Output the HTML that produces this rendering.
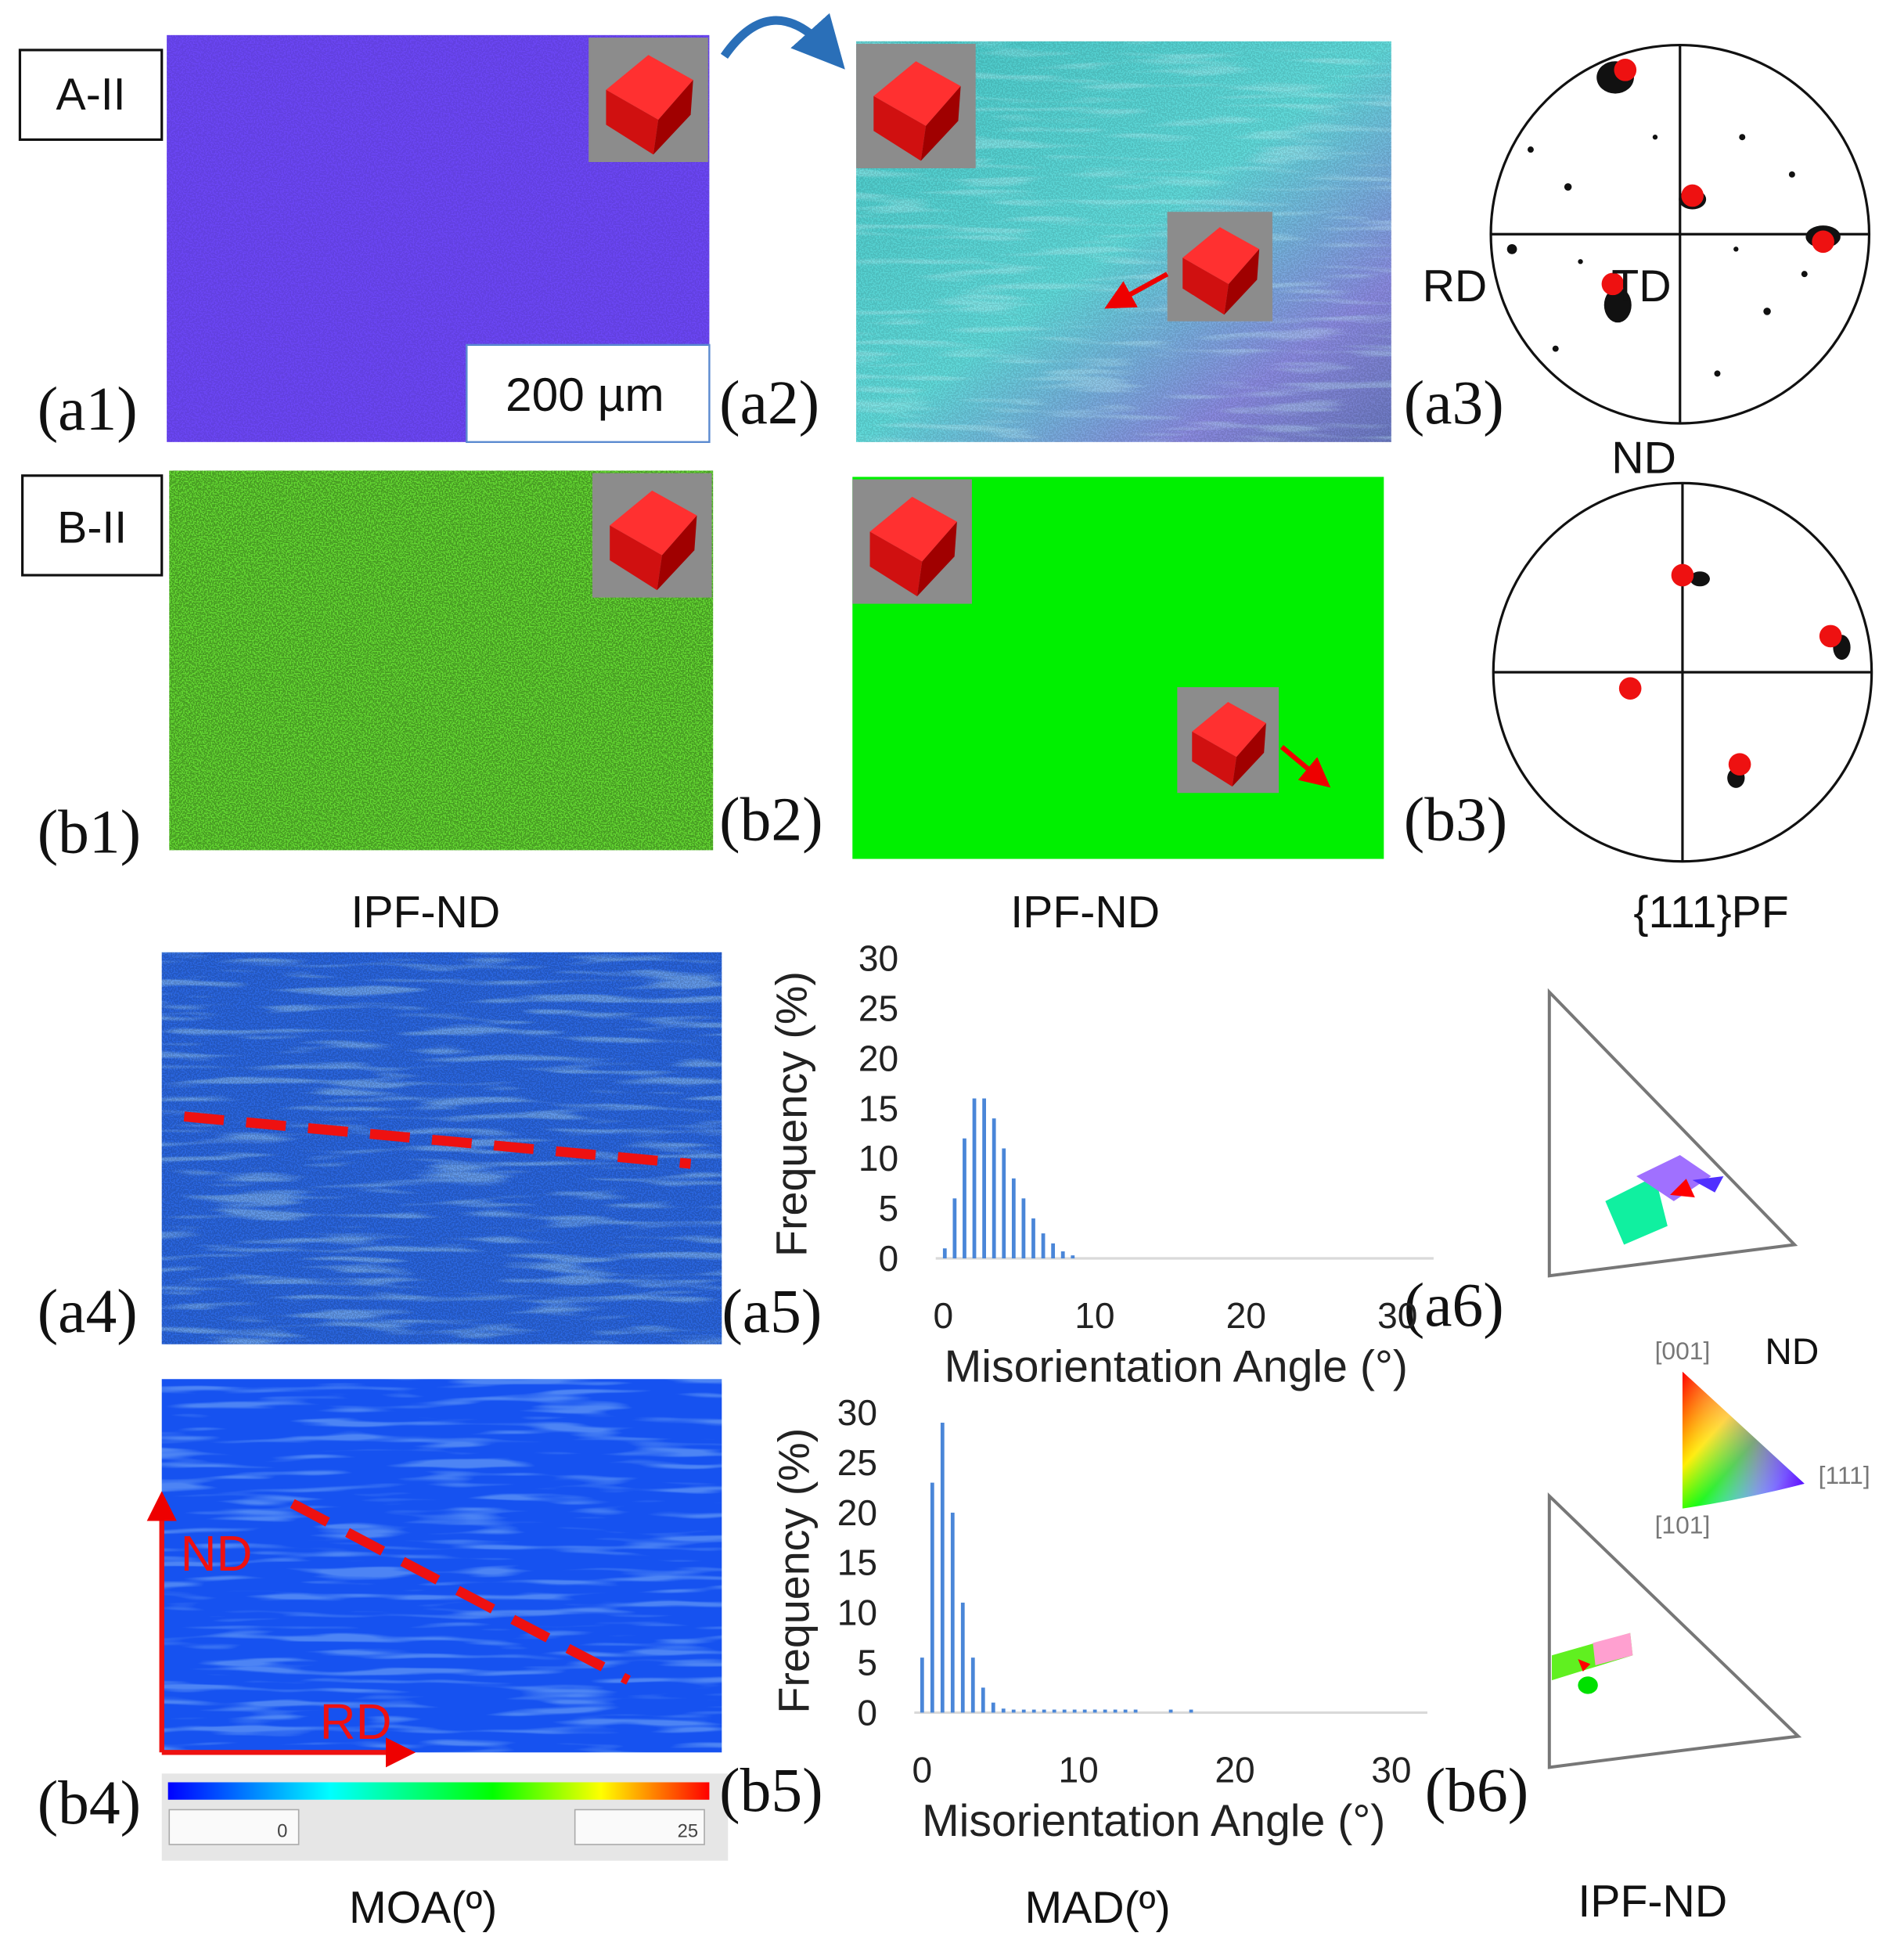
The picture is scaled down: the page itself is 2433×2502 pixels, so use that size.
<!DOCTYPE html>
<html><head><meta charset="utf-8">
<style>
html,body{margin:0;padding:0;background:#fff;}
svg{display:block;}
text{font-family:"Liberation Sans",sans-serif;}
.lab{font-family:"Liberation Serif",serif;font-size:50px;fill:#111;}
.cap{font-size:36px;fill:#111;}
.tick{font-size:29px;fill:#222;}
</style></head>
<body>
<svg id="fig" width="2433" height="2502" viewBox="0 0 1530 1573" xmlns="http://www.w3.org/2000/svg">
<defs>
  <filter id="noiseDark" x="0" y="0" width="100%" height="100%">
    <feTurbulence type="fractalNoise" baseFrequency="0.9" numOctaves="1" seed="3" result="n"/>
    <feColorMatrix in="n" type="matrix" values="0 0 0 0 0  0 0 0 0 0  0 0 0 0 0  0 0 0 -9 5.2" result="a"/>
    <feComposite in="a" in2="SourceGraphic" operator="in"/>
  </filter>
  <filter id="streak" x="0" y="0" width="100%" height="100%">
    <feTurbulence type="fractalNoise" baseFrequency="0.012 0.15" numOctaves="2" seed="7" result="n"/>
    <feColorMatrix in="n" type="matrix" values="0 0 0 0 0.6  0 0 0 0 0.95  0 0 0 0 1  0 0 0 5 -2.6"/>
  </filter>
  <linearGradient id="a2grad" x1="0" y1="0" x2="1" y2="1">
    <stop offset="0" stop-color="#48c8c8"/><stop offset="0.5" stop-color="#60dada"/><stop offset="0.8" stop-color="#8a8ae0"/><stop offset="1" stop-color="#6a78c0"/>
  </linearGradient>
  <linearGradient id="cbar" x1="0" x2="1">
    <stop offset="0" stop-color="#0000ff"/><stop offset="0.3" stop-color="#00ffff"/><stop offset="0.6" stop-color="#00ff00"/><stop offset="0.8" stop-color="#ffff00"/><stop offset="1" stop-color="#ff0000"/>
  </linearGradient>
  <linearGradient id="ipfLeg" x1="0" y1="0" x2="1" y2="1">
    <stop offset="0" stop-color="#ff0000"/><stop offset="0.35" stop-color="#ffee00"/><stop offset="0.55" stop-color="#00ff00"/><stop offset="0.8" stop-color="#00ffff"/><stop offset="1" stop-color="#4040ff"/>
  </linearGradient>
  <linearGradient id="ipfLeg2" x1="0" y1="0" x2="1" y2="0">
    <stop offset="0" stop-color="#fff" stop-opacity="0"/><stop offset="0.6" stop-color="#ff40ff" stop-opacity="0.5"/><stop offset="1" stop-color="#6000ff" stop-opacity="0.9"/>
  </linearGradient>
  <g id="cube">
    <rect x="0" y="0" width="96" height="100" fill="#8c8c8c"/>
    <polygon points="14,42 48,14 84,34 56,66" fill="#ff3030"/>
    <polygon points="14,42 56,66 52,94 14,70" fill="#d01010"/>
    <polygon points="56,66 84,34 82,62 52,94" fill="#a00000"/>
  </g>
  <marker id="arrRed" markerWidth="6" markerHeight="6" refX="3" refY="3" orient="auto"><path d="M0,0 L6,3 L0,6 z" fill="#e00"/></marker>
  <marker id="arrBlue" markerWidth="6" markerHeight="6" refX="3" refY="3" orient="auto"><path d="M0,0 L6,3 L0,6 z" fill="#2a6fb8"/></marker>
</defs>

<g><rect x="16" y="40" width="114" height="72" fill="#fff" stroke="#111" stroke-width="2"/><text x="73" y="88" class="cap" text-anchor="middle">A-II</text></g>
<g>
  <rect x="134" y="28" width="436" height="327" fill="#6b46f4"/>
  <rect x="134" y="28" width="436" height="327" fill="#000" filter="url(#noiseDark)" opacity="0.08"/>
  <use href="#cube" x="473" y="30"/>
  <rect x="375" y="277" width="195" height="78" fill="#fff" stroke="#5a8ad0" stroke-width="1.5"/>
  <text x="470" y="330" font-size="38" text-anchor="middle" fill="#111">200 µm</text>
</g>
<path d="M582,45 Q620,-10 665,40" fill="none" stroke="#2a6fb8" stroke-width="7" marker-end="url(#arrBlue)"/>
<g>
  <rect x="688" y="33" width="430" height="322" fill="url(#a2grad)"/>
  <rect x="688" y="33" width="430" height="322" filter="url(#streak)" opacity="0.3"/>
  <rect x="688" y="33" width="430" height="322" fill="#000" filter="url(#noiseDark)" opacity="0.1"/>
  <use href="#cube" x="688" y="35"/>
  <use href="#cube" transform="translate(938,170) scale(0.88)"/>
  <line x1="938" y1="220" x2="898" y2="242" stroke="#e00" stroke-width="4" marker-end="url(#arrRed)"/>
</g>
<g>
  <circle cx="1350" cy="188" r="152" fill="#fff" stroke="#111" stroke-width="2"/>
  <line x1="1198" y1="188" x2="1502" y2="188" stroke="#111" stroke-width="2"/>
  <line x1="1350" y1="36" x2="1350" y2="340" stroke="#111" stroke-width="2"/>
  <g fill="#111">
    <ellipse cx="1298" cy="62" rx="15" ry="13"/><ellipse cx="1360" cy="160" rx="11" ry="8"/>
    <ellipse cx="1465" cy="190" rx="14" ry="9"/><ellipse cx="1300" cy="245" rx="11" ry="14"/>
    <circle cx="1230" cy="120" r="2.5"/><circle cx="1260" cy="150" r="3"/><circle cx="1400" cy="110" r="2.5"/><circle cx="1420" cy="250" r="3"/>
    <circle cx="1380" cy="300" r="2.5"/><circle cx="1250" cy="280" r="2.5"/><circle cx="1215" cy="200" r="4"/><circle cx="1440" cy="140" r="2.5"/>
    <circle cx="1330" cy="110" r="2"/><circle cx="1450" cy="220" r="2.5"/><circle cx="1270" cy="210" r="2"/><circle cx="1395" cy="200" r="2"/>
  </g>
  <g fill="#ee1111"><circle cx="1306" cy="56" r="9"/><circle cx="1360" cy="157" r="9"/><circle cx="1465" cy="194" r="9"/><circle cx="1296" cy="228" r="9"/></g>
  <text x="1143" y="242" font-size="36" fill="#111">RD</text>
  <text x="1295" y="242" font-size="36" fill="#111">TD</text>
  <text x="1295" y="380" font-size="36" fill="#111">ND</text>
</g>
<text x="30" y="345" class="lab">(a1)</text>
<text x="578" y="340" class="lab">(a2)</text>
<text x="1128" y="340" class="lab">(a3)</text>

<g><rect x="18" y="382" width="112" height="80" fill="#fff" stroke="#111" stroke-width="2"/><text x="74" y="436" class="cap" text-anchor="middle">B-II</text></g>
<g>
  <rect x="136" y="378" width="437" height="305" fill="#64d832"/>
  <rect x="136" y="378" width="437" height="305" fill="#0a2a00" filter="url(#noiseDark)" opacity="0.28"/>
  <use href="#cube" x="476" y="380"/>
</g>
<g>
  <rect x="685" y="383" width="427" height="307" fill="#00f000"/>
  <use href="#cube" x="685" y="385"/>
  <use href="#cube" transform="translate(946,552) scale(0.85)"/>
  <line x1="1030" y1="600" x2="1060" y2="625" stroke="#e00" stroke-width="4" marker-end="url(#arrRed)"/>
</g>
<g>
  <circle cx="1352" cy="540" r="152" fill="#fff" stroke="#111" stroke-width="2"/>
  <line x1="1200" y1="540" x2="1504" y2="540" stroke="#111" stroke-width="2"/>
  <line x1="1352" y1="388" x2="1352" y2="692" stroke="#111" stroke-width="2"/>
  <g fill="#111"><ellipse cx="1366" cy="465" rx="8" ry="6"/><ellipse cx="1480" cy="520" rx="7" ry="10"/><ellipse cx="1395" cy="625" rx="7" ry="8"/></g>
  <g fill="#ee1111"><circle cx="1352" cy="462" r="9"/><circle cx="1471" cy="511" r="9"/><circle cx="1310" cy="553" r="9"/><circle cx="1398" cy="614" r="9"/></g>
</g>
<text x="30" y="685" class="lab">(b1)</text>
<text x="578" y="675" class="lab">(b2)</text>
<text x="1128" y="675" class="lab">(b3)</text>
<text x="342" y="745" class="cap" text-anchor="middle">IPF-ND</text>
<text x="872" y="745" class="cap" text-anchor="middle">IPF-ND</text>
<text x="1375" y="745" class="cap" text-anchor="middle">{111}PF</text>

<g>
  <rect x="130" y="765" width="450" height="315" fill="#2a66e0"/>
  <rect x="130" y="765" width="450" height="315" filter="url(#streak)" opacity="0.35"/>
  <rect x="130" y="765" width="450" height="315" fill="#000" filter="url(#noiseDark)" opacity="0.15"/>
  <line x1="148" y1="897" x2="555" y2="935" stroke="#ee1111" stroke-width="8" stroke-dasharray="32,18"/>
</g>
<text x="30" y="1070" class="lab">(a4)</text>
<text x="580" y="1070" class="lab">(a5)</text>
<text x="1128" y="1065" class="lab">(a6)</text>
<g id="chartA"></g>

<g>
  <path d="M1245,797 L1442,1000 Q1345,1012 1245,1025 Z" fill="#fff" stroke="#777" stroke-width="2.5"/>
  <path d="M1290,965 L1330,945 L1340,985 L1305,1000 Z" fill="#10f0a0"/>
  <path d="M1315,945 L1350,928 L1375,945 L1345,965 Z" fill="#a070ff"/>
  <path d="M1360,948 L1385,945 L1378,958 Z" fill="#5030ff"/>
  <path d="M1342,960 L1355,947 L1362,962 Z" fill="#ff0000"/>
</g>
<g>
  <text x="1352" y="1092" font-size="20" fill="#777" text-anchor="middle">[001]</text>
  <text x="1440" y="1096" font-size="30" fill="#111" text-anchor="middle">ND</text>
  <path d="M1352,1102 L1450,1192 Q1400,1205 1352,1212 Z" fill="url(#ipfLeg)"/>
  <path d="M1352,1102 L1450,1192 Q1400,1205 1352,1212 Z" fill="url(#ipfLeg2)"/>
  <text x="1482" y="1192" font-size="20" fill="#777" text-anchor="middle">[111]</text>
  <text x="1352" y="1232" font-size="20" fill="#777" text-anchor="middle">[101]</text>
</g>

<g>
  <rect x="130" y="1108" width="450" height="300" fill="#1652f0"/>
  <rect x="130" y="1108" width="450" height="300" filter="url(#streak)" opacity="0.3"/>
  <line x1="235" y1="1208" x2="505" y2="1350" stroke="#ee1111" stroke-width="8" stroke-dasharray="32,18"/>
  <line x1="130" y1="1408" x2="130" y2="1210" stroke="#ee1111" stroke-width="4" marker-end="url(#arrRed)"/>
  <line x1="130" y1="1408" x2="322" y2="1408" stroke="#ee1111" stroke-width="4" marker-end="url(#arrRed)"/>
  <text x="145" y="1262" font-size="40" fill="#ee1111">ND</text>
  <text x="257" y="1397" font-size="40" fill="#ee1111">RD</text>
</g>
<g>
  <rect x="130" y="1425" width="455" height="70" fill="#e6e6e6"/>
  <rect x="135" y="1432" width="435" height="14" fill="url(#cbar)"/>
  <rect x="136" y="1454" width="104" height="28" fill="#fafafa" stroke="#aaa"/>
  <rect x="462" y="1454" width="104" height="28" fill="#fafafa" stroke="#aaa"/>
  <text x="231" y="1476" font-size="15" fill="#444" text-anchor="end">0</text>
  <text x="561" y="1476" font-size="15" fill="#444" text-anchor="end">25</text>
</g>
<text x="30" y="1465" class="lab">(b4)</text>
<text x="578" y="1455" class="lab">(b5)</text>
<text x="1145" y="1455" class="lab">(b6)</text>
<g id="chartB"></g>
<g>
  <path d="M1245,1202 L1445,1395 Q1345,1407 1245,1420 Z" fill="#fff" stroke="#777" stroke-width="2.5"/>
  <path d="M1247,1330 L1310,1312 L1312,1330 L1247,1350 Z" fill="#60f020"/>
  <path d="M1280,1320 L1310,1312 L1312,1330 L1282,1338 Z" fill="#ffa0d0"/>
  <ellipse cx="1276" cy="1354" rx="8" ry="7" fill="#00e000"/>
  <path d="M1268,1333 L1278,1337 L1272,1343 Z" fill="#ff0000"/>
</g>
<text x="340" y="1545" class="cap" text-anchor="middle">MOA(º)</text>
<text x="882" y="1545" class="cap" text-anchor="middle">MAD(º)</text>
<text x="1328" y="1540" class="cap" text-anchor="middle">IPF-ND</text>
</svg>
<script>
const anglesA = [0.1,0.75,1.4,2.05,2.7,3.35,4.0,4.65,5.3,5.95,6.6,7.25,7.9,8.55];
const freqA = [1,6,12,16,16,14,11,8,6,4,2.5,1.5,0.7,0.3];
const anglesB = [0,0.65,1.3,1.95,2.6,3.25,3.9,4.55,5.2,5.85,6.5,7.15,7.8,8.45,9.1,9.75,10.4,11.05,11.7,12.35,13.0,13.65,15.9,17.2];
const freqB = [5.5,23,29,20,11,5.5,2.5,1,0.4,0.3,0.3,0.3,0.3,0.3,0.3,0.3,0.3,0.3,0.3,0.3,0.3,0.3,0.3,0.3];
const yTicks = [0,5,10,15,20,25,30];
const xTicks = [0,10,20,30];
const NS='http://www.w3.org/2000/svg';
function mk(tag, attrs, parent){const e=document.createElementNS(NS,tag);for(const k in attrs)e.setAttribute(k,attrs[k]);parent.appendChild(e);return e;}
function drawChart(gId, ang, freq, x0, x30, y0, y30, axisEnd, yLabX, titleX, titleY, xTitleX, xTitleY){
  const g=document.getElementById(gId);
  const xs=v=>x0+(x30-x0)*v/30, ys=v=>y0+(y30-y0)*v/30;
  const ax=mk('line',{x1:xs(-0.5),y1:y0,x2:axisEnd,y2:y0,stroke:'#d9d9d9','stroke-width':2},g);
  
  
  yTicks.forEach(t=>{const e=mk('text',{x:yLabX,y:ys(t)+10,'text-anchor':'end',class:'tick'},g);e.textContent=t;
    
    });
  xTicks.forEach(t=>{const e=mk('text',{x:xs(t),y:y0+56,'text-anchor':'middle',class:'tick'},g);e.textContent=t;
    
    });
  ang.forEach((a,i)=>{const h=y0-ys(freq[i]);const r=mk('rect',{x:xs(a)-1.5,y:ys(freq[i]),width:3,height:Math.max(h,1),fill:'#4a86d8'},g);
    
    });
  const yt=mk('text',{x:titleX,y:titleY,'text-anchor':'middle','font-size':35,fill:'#222',transform:`rotate(-90 ${titleX} ${titleY})`},g);
  yt.textContent='Frequency (%)';
  
  
  const xt=mk('text',{x:xTitleX,y:xTitleY,'text-anchor':'middle','font-size':36,fill:'#222'},g);
  xt.textContent='Misorientation Angle (°)';
  
  
}
drawChart('chartA',anglesA,freqA,758,1123,1011,770,1152,722,648,895,945,1110);
drawChart('chartB',anglesB,freqB,741,1118,1376,1135,1147,705,650,1262,927,1475);
</script>
</body></html>
